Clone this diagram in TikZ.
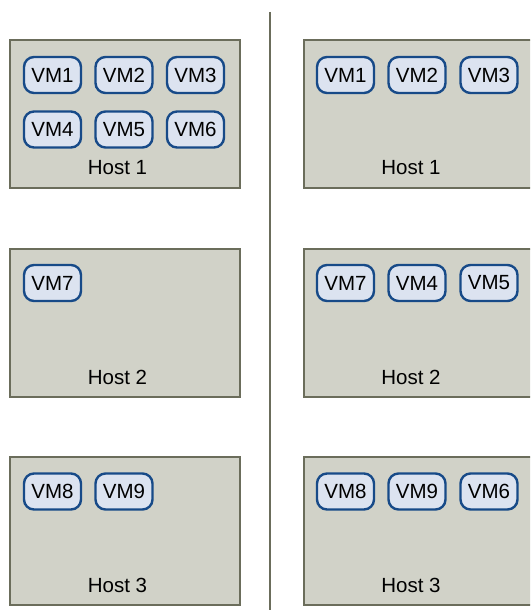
\documentclass[tikz,border=0pt]{standalone}
\usepackage{tikz}
\usepackage{color}
\usepackage{fontspec}
\setmainfont{Liberation Sans}

\definecolor{hostfill}{HTML}{D1D2C8}
\definecolor{hostline}{HTML}{6B6D5B}
\definecolor{vmfill}{HTML}{DCE3F0}
\definecolor{vmline}{HTML}{174A88}

\begin{document}
\begin{tikzpicture}[%
      x=1pt, y=-1pt,
      host/.style={rectangle, draw=hostline, fill=hostfill, line width=2pt,
        anchor=north west, inner sep=0pt, minimum width=230pt, minimum height=148pt},
      vm/.style={rectangle, rounded corners=10pt, draw=vmline, fill=vmfill, line width=2.4pt,
        inner sep=0pt, minimum width=57pt, minimum height=36pt,
        font=\fontsize{20.5}{24}\selectfont},
      hostlabel/.style={font=\fontsize{20.5}{24}\selectfont},
      ]
      \useasboundingbox (0,0) rectangle (530,610);
      \clip (0,0) rectangle (530,610);

      \draw [color=hostline, line width=2.5pt] (270,12) -- (270,610);

      \node [host] (hostL1) at (9,39) {};
      \node [host] (hostL2) at (9,248) {};
      \node [host] (hostL3) at (9,456) {};
      \node [host, minimum width=240pt] (hostR1) at (303,39) {};
      \node [host, minimum width=240pt] (hostR2) at (303,248) {};
      \node [host, minimum width=240pt] (hostR3) at (303,456) {};

      \node [vm] (vmL1) at (52.5,75) {VM1};
      \node [vm] (vmL2) at (124,75) {VM2};
      \node [vm] (vmL3) at (195.5,75) {VM3};
      \node [vm] (vmL4) at (52.5,129.5) {VM4};
      \node [vm] (vmL5) at (124,129.5) {VM5};
      \node [vm] (vmL6) at (195.5,129.5) {VM6};
      \node [vm] (vmL7) at (52.5,283) {VM7};
      \node [vm] (vmL8) at (52.5,491.5) {VM8};
      \node [vm] (vmL9) at (124,491.5) {VM9};

      \node [vm] (vmR1) at (345.5,75) {VM1};
      \node [vm] (vmR2) at (417,75) {VM2};
      \node [vm] (vmR3) at (489,75) {VM3};
      \node [vm] (vmR7) at (345.5,283) {VM7};
      \node [vm] (vmR4) at (417,283) {VM4};
      \node [vm] (vmR5) at (489,283) {VM5};
      \node [vm] (vmR8) at (345.5,491.5) {VM8};
      \node [vm] (vmR9) at (417,491.5) {VM9};
      \node [vm] (vmR6) at (489,491.5) {VM6};

      \node [hostlabel] (labL1) at (117.5,168) {Host 1};
      \node [hostlabel] (labL2) at (117.5,377) {Host 2};
      \node [hostlabel] (labL3) at (117.5,585) {Host 3};
      \node [hostlabel] (labR1) at (411,168) {Host 1};
      \node [hostlabel] (labR2) at (411,377) {Host 2};
      \node [hostlabel] (labR3) at (411,585) {Host 3};
      \end{tikzpicture}
\end{document}
